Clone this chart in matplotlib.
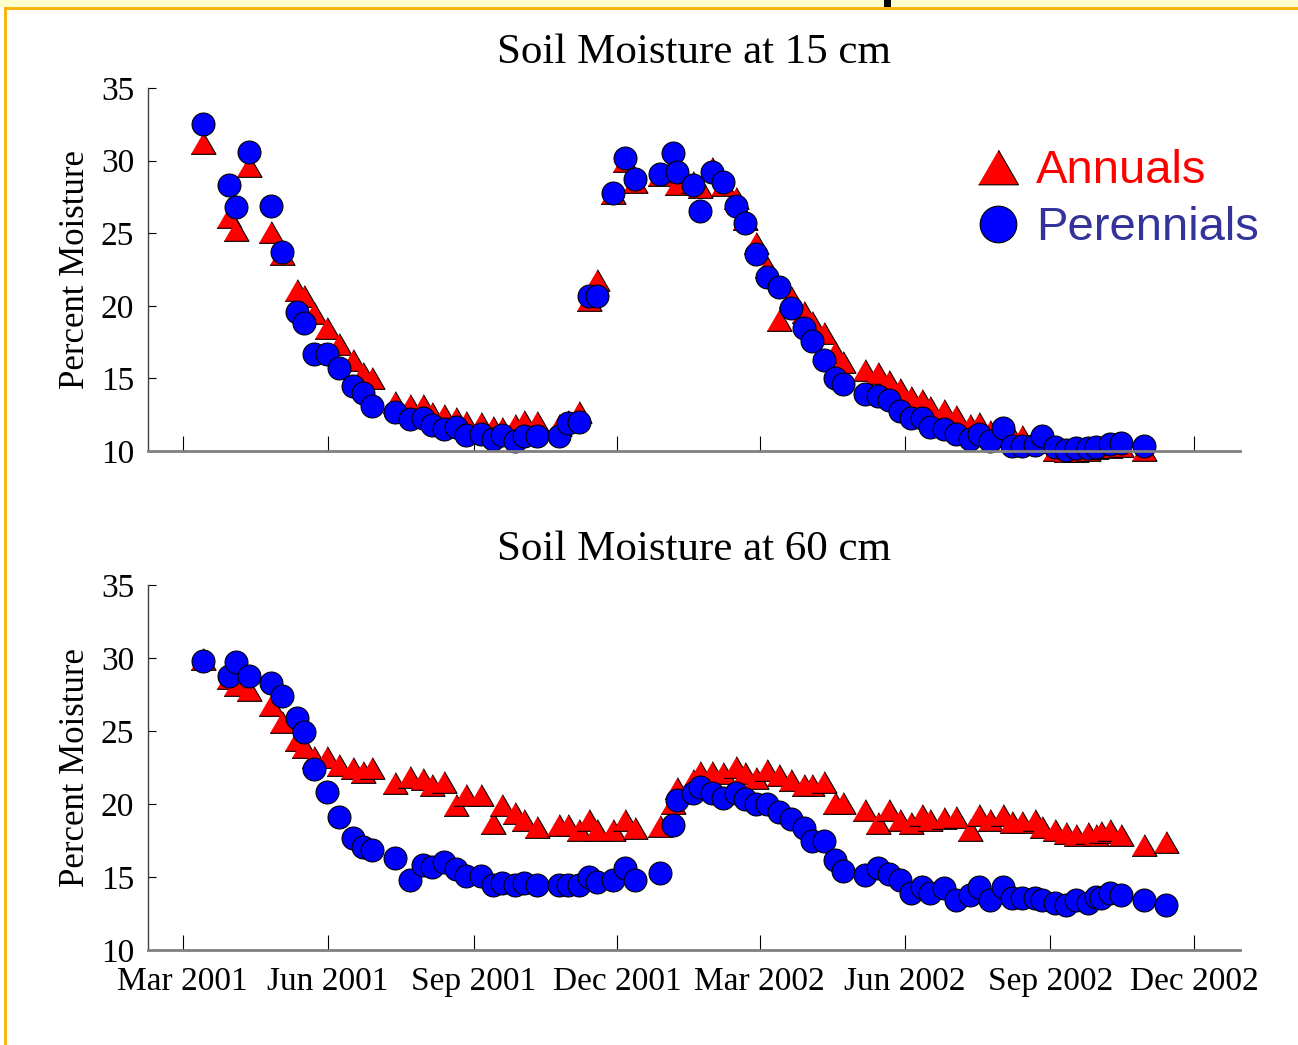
import matplotlib
matplotlib.use("Agg")
import matplotlib.pyplot as plt
import matplotlib.dates as mdates
from matplotlib.patches import Rectangle
from matplotlib.lines import Line2D
import pandas as pd

# sampling dates, 15 cm probes
dates_15 = [
    "2001-03-14", "2001-03-30", "2001-04-04", "2001-04-12", "2001-04-26", "2001-05-03",
    "2001-05-12", "2001-05-17", "2001-05-23", "2001-05-31", "2001-06-08", "2001-06-17",
    "2001-06-23", "2001-06-29", "2001-07-13", "2001-07-23", "2001-07-31", "2001-08-06",
    "2001-08-13", "2001-08-21", "2001-08-27", "2001-09-06", "2001-09-13", "2001-09-19",
    "2001-09-27", "2001-10-03", "2001-10-11", "2001-10-25", "2001-10-31", "2001-11-07",
    "2001-11-13", "2001-11-18", "2001-11-28", "2001-12-06", "2001-12-12", "2001-12-28",
    "2002-01-05", "2002-01-08", "2002-01-18", "2002-01-22", "2002-01-30", "2002-02-06",
    "2002-02-14", "2002-02-20", "2002-02-27", "2002-03-06", "2002-03-13", "2002-03-21",
    "2002-03-29", "2002-04-03", "2002-04-11", "2002-04-18", "2002-04-23", "2002-05-07",
    "2002-05-15", "2002-05-22", "2002-05-29", "2002-06-05", "2002-06-12", "2002-06-17",
    "2002-06-26", "2002-07-03", "2002-07-12", "2002-07-18", "2002-07-25", "2002-08-02",
    "2002-08-08", "2002-08-14", "2002-08-22", "2002-08-27", "2002-09-04", "2002-09-11",
    "2002-09-17", "2002-09-25", "2002-09-30", "2002-10-09", "2002-10-16", "2002-10-30",
]
annuals_15 = [
    31.2, 26.1, 25.2, 29.6, 25.1, 23.6, 21.1, 20.7, 19.5, 18.5, 17.4, 16.3,
    15.4, 15.0, 13.4, 13.2, 13.2, 12.6, 12.5, 12.3, 12.0, 11.9, 11.65, 11.6,
    11.8, 12.1, 12.0, 11.8, 12.1, 12.7, 20.4, 21.8, 27.8, 30.0, 28.5, 29.0,
    29.8, 28.4, 28.5, 28.2, 29.5, 28.3, 27.4, 26.0, 24.3, 22.7, 19.0, 20.6,
    19.6, 18.9, 18.1, 16.8, 16.1, 15.6, 15.4, 14.8, 14.3, 13.7, 13.5, 13.0,
    12.8, 12.4, 11.8, 11.9, 11.4, 11.2, 11.0, 11.0, 10.6, 10.8, 10.1, 10.0,
    10.0, 10.1, 10.2, 10.3, 10.35, 10.1,
]
perennials_15 = [
    32.5, 28.3, 26.8, 30.6, 26.9, 23.7, 19.6, 18.8, 16.7, 16.7, 15.7, 14.5,
    14.0, 13.1, 12.7, 12.2, 12.3, 11.8, 11.5, 11.65, 11.1, 11.2, 10.8, 11.1,
    10.7, 11.0, 11.0, 11.0, 11.9, 12.0, 20.7, 20.7, 27.8, 30.2, 28.7, 29.1,
    30.5, 29.2, 28.3, 26.5, 29.2, 28.5, 26.9, 25.7, 23.6, 22.0, 21.3, 19.85,
    18.5, 17.6, 16.3, 15.0, 14.6, 13.9, 13.8, 13.5, 12.75, 12.3, 12.3, 11.65,
    11.5, 11.2, 10.8, 11.2, 10.7, 11.6, 10.35, 10.35, 10.4, 11.0, 10.3, 10.1,
    10.2, 10.2, 10.3, 10.5, 10.55, 10.35,
]

# sampling dates, 60 cm probes
dates_60 = [
    "2001-03-14", "2001-03-30", "2001-04-04", "2001-04-12", "2001-04-26", "2001-05-03",
    "2001-05-12", "2001-05-17", "2001-05-23", "2001-05-31", "2001-06-08", "2001-06-17",
    "2001-06-23", "2001-06-29", "2001-07-13", "2001-07-23", "2001-07-31", "2001-08-06",
    "2001-08-13", "2001-08-21", "2001-08-27", "2001-09-06", "2001-09-13", "2001-09-19",
    "2001-09-27", "2001-10-03", "2001-10-11", "2001-10-25", "2001-10-31", "2001-11-07",
    "2001-11-13", "2001-11-18", "2001-11-28", "2001-12-06", "2001-12-12", "2001-12-28",
    "2002-01-05", "2002-01-08", "2002-01-18", "2002-01-22", "2002-01-30", "2002-02-06",
    "2002-02-14", "2002-02-20", "2002-02-27", "2002-03-06", "2002-03-13", "2002-03-21",
    "2002-03-29", "2002-04-03", "2002-04-11", "2002-04-18", "2002-04-23", "2002-05-07",
    "2002-05-15", "2002-05-22", "2002-05-29", "2002-06-05", "2002-06-12", "2002-06-17",
    "2002-06-26", "2002-07-03", "2002-07-12", "2002-07-18", "2002-07-25", "2002-08-02",
    "2002-08-08", "2002-08-14", "2002-08-22", "2002-08-27", "2002-09-04", "2002-09-11",
    "2002-09-17", "2002-09-25", "2002-09-30", "2002-10-03", "2002-10-09", "2002-10-16",
    "2002-10-30", "2002-11-13",
]
annuals_60 = [
    29.9, 28.6, 28.15, 27.8, 26.8, 25.6, 24.4, 23.9, 23.2, 23.2, 22.7, 22.45,
    22.2, 22.45, 21.45, 21.85, 21.7, 21.3, 21.5, 19.9, 20.6, 20.6, 18.7, 19.9,
    19.4, 18.9, 18.4, 18.55, 18.55, 18.2, 18.9, 18.2, 18.2, 18.9, 18.35, 18.5,
    20.05, 21.1, 21.65, 22.2, 22.2, 22.1, 22.55, 22.1, 21.8, 22.3, 22.0, 21.65,
    21.3, 21.3, 21.5, 20.05, 20.05, 19.6, 18.7, 19.6, 18.9, 18.7, 19.25, 18.9,
    19.05, 19.1, 18.2, 19.25, 18.9, 19.25, 18.75, 18.75, 18.9, 18.4, 18.2, 18.0,
    17.9, 18.0, 17.9, 18.1, 18.2, 17.9, 17.2, 17.4,
]
perennials_60 = [
    29.8, 28.8, 29.7, 28.8, 28.3, 27.4, 25.9, 24.9, 22.4, 20.8, 19.1, 17.7,
    17.05, 16.85, 16.3, 14.8, 15.8, 15.7, 16.0, 15.55, 15.1, 15.1, 14.45, 14.6,
    14.45, 14.6, 14.45, 14.45, 14.45, 14.45, 15.0, 14.65, 14.8, 15.6, 14.8, 15.3,
    18.55, 20.3, 20.75, 21.15, 20.75, 20.4, 20.75, 20.35, 20.0, 20.0, 19.45, 19.0,
    18.35, 17.5, 17.5, 16.15, 15.4, 15.15, 15.6, 15.2, 14.8, 13.9, 14.3, 13.9,
    14.25, 13.4, 13.75, 14.3, 13.4, 14.3, 13.55, 13.55, 13.55, 13.4, 13.2, 13.1,
    13.4, 13.2, 13.6, 13.55, 13.9, 13.75, 13.4, 13.1,
]

plt.rcParams['font.family'] = 'Liberation Serif'

# equilateral triangle marker
tri = [(-1, -0.866), (1, -0.866), (0, 0.866)]

W, H = 1298, 1045
fig = plt.figure(figsize=(W / 100, H / 100), dpi=100)
fig.patch.set_facecolor('white')

# slide frame bits
fig.add_artist(Rectangle((0, 1 - 7 / H), 1, 7 / H, transform=fig.transFigure,
                         facecolor='#ffffcc', edgecolor='none'))
fig.add_artist(Rectangle((884 / W, 1 - 7 / H), 7 / W, 7 / H, transform=fig.transFigure,
                         facecolor='black', edgecolor='none'))
fig.add_artist(Line2D([5 / W, 1], [1 - 7.5 / H, 1 - 7.5 / H], transform=fig.transFigure,
                      color='#ffb000', lw=2))
fig.add_artist(Line2D([5 / W, 5 / W], [0, 1 - 7.5 / H], transform=fig.transFigure,
                      color='#ffb000', lw=2))

ax1 = fig.add_axes([148 / W, 1 - 451 / H, 1092 / W, 363 / H])
ax2 = fig.add_axes([148 / W, 1 - 950 / H, 1092 / W, 365 / H])


def draw(ax, dates, ann, per, title):
    d = pd.to_datetime(dates)
    ax.plot(d, ann, ls='none', marker=tri, ms=18, mfc='#ff0000', mec='black',
            mew=0.8, clip_on=False, label='Annuals')
    ax.plot(d, per, ls='none', marker='o', ms=16.5, mfc='#0000ff', mec='black',
            mew=0.8, clip_on=False, label='Perennials')
    ax.set_ylim(10, 35)
    ax.set_yticks(range(10, 36, 5))
    ax.set_xlim(pd.Timestamp('2001-02-07'), pd.Timestamp('2002-12-30'))
    ax.xaxis.set_major_locator(mdates.MonthLocator(bymonth=[3, 6, 9, 12]))
    ax.xaxis.set_major_formatter(mdates.DateFormatter('%b %Y'))
    ax.set_title(title, fontsize=31, pad=18)
    ax.set_ylabel('Percent Moisture', fontsize=25, labelpad=6)
    for s in ['top', 'right']:
        ax.spines[s].set_visible(False)
    ax.spines['bottom'].set_color('#808080')
    ax.spines['bottom'].set_linewidth(2)
    ax.spines['left'].set_color('#404040')
    ax.spines['left'].set_linewidth(1)
    ax.tick_params(axis='x', direction='in', length=11, width=0.8, labelsize=24, pad=12)
    ax.tick_params(axis='y', direction='in', length=6, width=0.8, labelsize=24, pad=10)


draw(ax1, dates_15, annuals_15, perennials_15, 'Soil Moisture at 15 cm')
draw(ax2, dates_60, annuals_60, perennials_60, 'Soil Moisture at 60 cm')
ax1.tick_params(axis='x', labelbottom=False)

ax1.legend(loc='center left', bbox_to_anchor=(0.757, 0.692), frameon=False,
           markerscale=1.6, prop={'family': 'Liberation Sans', 'size': 34},
           labelcolor=['#ff0000', '#333399'], handlelength=1.0, handletextpad=0.3,
           labelspacing=0.28, borderpad=0, borderaxespad=0)

fig.savefig('out.png', dpi=100)
